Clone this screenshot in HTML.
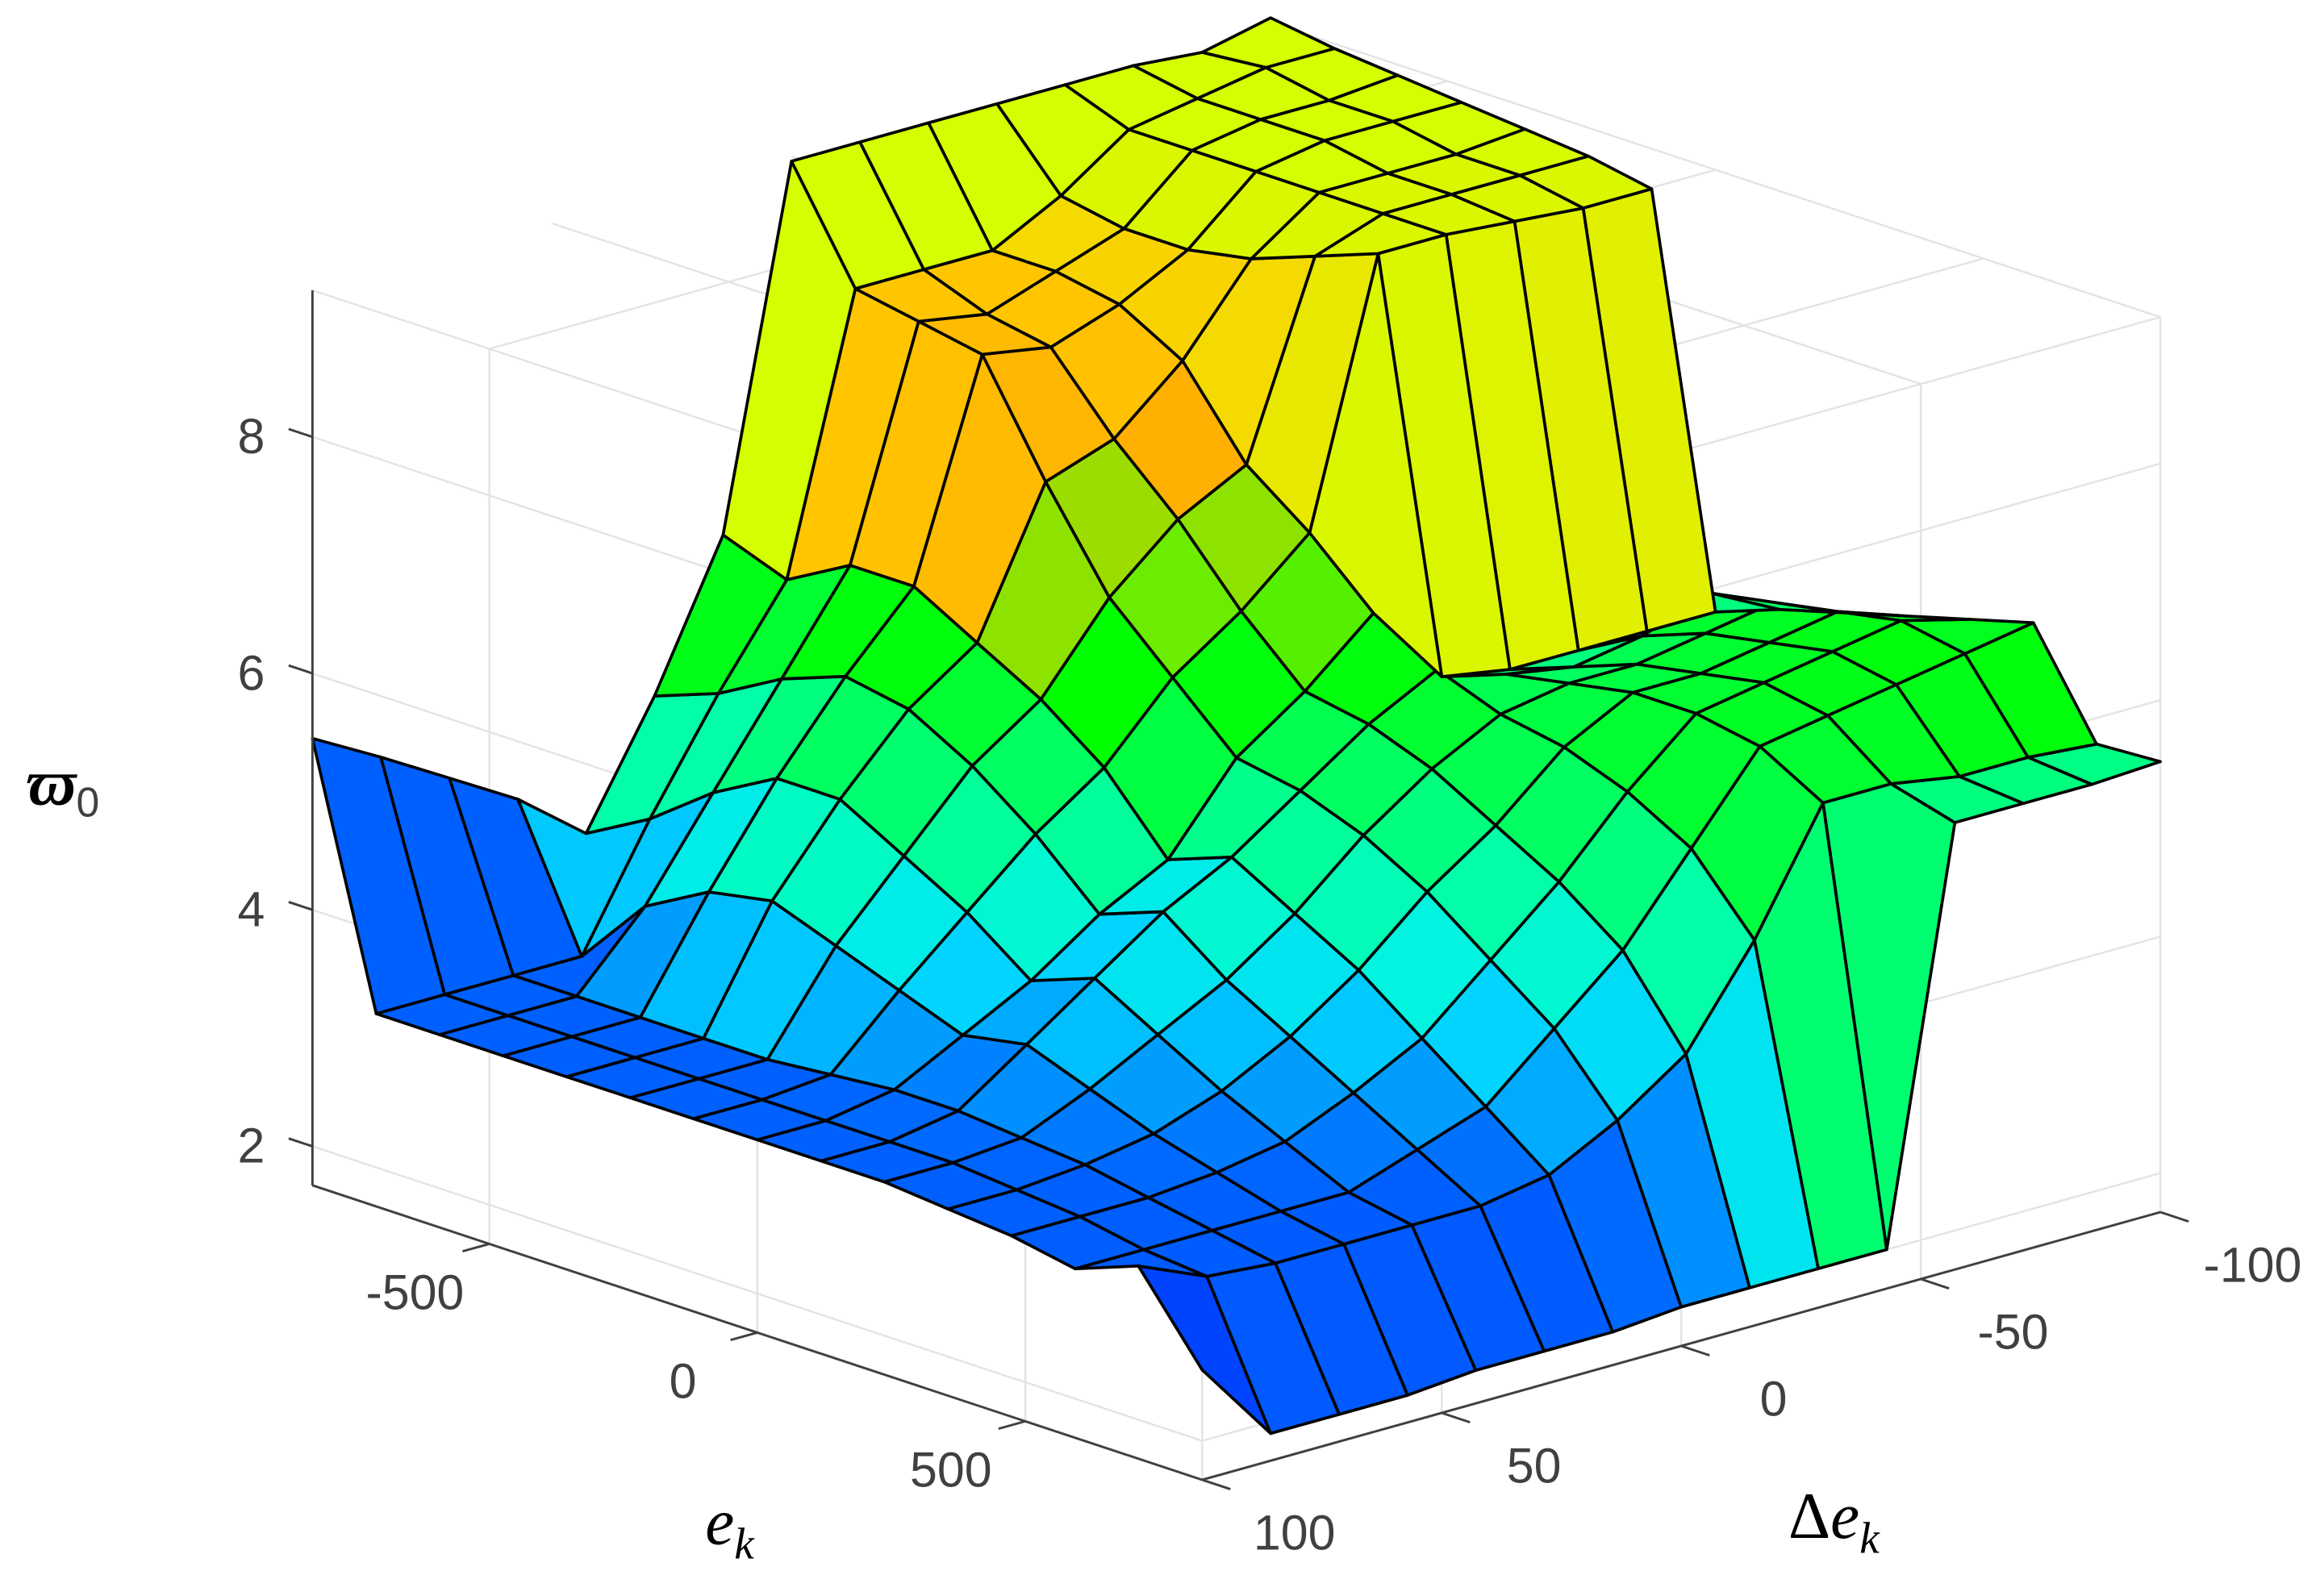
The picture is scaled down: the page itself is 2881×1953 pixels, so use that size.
<!DOCTYPE html>
<html><head><meta charset="utf-8"><title>Surface ϖo vs e_k, Δe_k</title>
<style>
html,body{margin:0;padding:0;background:#fff;}
svg{display:block;}
.tick{font-family:"Liberation Sans","DejaVu Sans",sans-serif;font-size:33px;fill:#404040;}
.ttl{font-family:"Liberation Serif","DejaVu Serif",serif;font-style:italic;fill:#000;}
</style></head>
<body>
<svg id="chart" width="2881" height="1953" viewBox="0 0 1562 1059" preserveAspectRatio="none" xmlns="http://www.w3.org/2000/svg">
<g id="grid"></g>
<g id="surf"></g>
<g id="axes"></g>
<text class="ttl" x="18" y="541" font-size="44" font-weight="bold">ϖ<tspan font-style="normal" font-weight="normal" font-family="Liberation Sans, sans-serif" font-size="28" fill="#404040" dy="8">0</tspan></text>
<text class="ttl" x="474" y="1038" font-size="44">e<tspan font-size="30" dy="10">k</tspan></text>
<text class="ttl" x="1202" y="1034" font-size="44"><tspan font-style="normal">Δ</tspan>e<tspan font-size="30" dy="10">k</tspan></text>
</svg>
<script>
// ---- data ----
const eVals = [-830,-711,-593,-474,-356,-237,-119,0,119,237,356,474,593,711,830];
const dVals = [100,85.7,71.4,57.1,42.9,28.6,14.3,0,-14.3,-28.6,-42.9,-57.1,-71.4,-85.7,-100];
const z0  = [5.45,3.3,3.3,3.3,3.3,3.3,3.3,3.3,3.3,3.3,3.25,3.2,3.1,3.3,2.6];
const z1  = [5.13,3.3,3.3,3.3,3.3,3.3,3.3,3.3,3.3,3.3,3.25,3.2,3.1,3.05,1.9];
const z2  = [4.79,3.3,3.3,3.3,3.3,3.3,3.35,3.4,3.4,3.35,3.3,3.2,3.1,3.0,1.9];
const z3  = [4.45,3.3,3.9,4.2,4.3,4.1,3.9,3.7,3.8,3.6,3.4,3.25,3.1,3.0,1.9];
const z4  = [4.0,4.3,4.7,5.0,5.0,4.7,4.4,4.0,4.2,3.9,3.6,3.35,3.1,3.0,1.95];
const z5  = [5.0,5.2,5.5,5.7,5.6,5.3,4.9,4.4,4.6,4.2,3.9,3.6,3.3,3.0,1.95];
const z6  = [6.2,6.0,6.3,6.3,6.0,5.7,5.3,4.7,4.9,4.6,4.3,3.9,3.5,3.1,1.95];
const z7  = [9.2,8.3,8.2,8.1,7.2,6.4,5.9,5.4,5.3,5.1,4.8,4.4,4.0,3.4,2.0];
const z8  = [9.2,8.3,8.1,8.0,7.4,6.9,6.3,5.8,5.7,5.5,5.2,4.9,4.5,3.8,2.0];
const z9  = [9.2,8.3,8.3,8.2,7.9,7.2,6.8,6.3,6.0,5.8,5.7,5.5,5.2,4.6,2.0];
const z10 = [9.2,8.6,8.5,8.5,8.6,8.8,9.0,5.6,5.8,5.9,6.0,6.0,5.9,5.6,2.0];
const z11 = [9.2,9.0,9.0,9.0,9.0,9.0,9.0,5.5,5.7,5.9,6.0,6.1,6.0,5.6,5.45];
const z12 = [9.2,9.1,9.1,9.1,9.0,9.0,8.95,5.5,5.8,6.0,6.1,6.2,6.1,5.5,5.45];
const z13 = [9.15,9.2,9.1,9.1,9.0,9.0,8.9,5.5,6.0,6.1,6.2,6.3,6.2,5.5,5.45];
const z14 = [9.28,9.2,9.15,9.1,9.05,9.0,8.9,5.5,5.7,5.85,6.0,6.15,6.3,5.45,5.48];
const zRows = [z0,z1,z2,z3,z4,z5,z6,z7,z8,z9,z10,z11,z12,z13,z14];
const zTicks = [2,4,6,8];
const eTicks = [-500,0,500];
const dTicks = [100,50,0,-50,-100];

// ---- axes ----
const eMin=-830, eMax=830, dMin=-100, dMax=100, zMin=1.67, zMax=9.24;
function P(e,d,z){
  const x = 210 + 0.36024*(e-eMin) + 3.22*(dMax-d);
  const y = 797 + 0.11928*(e-eMin) - 0.9*(dMax-d) - 79.5*(z-zMin);
  return [x,y];
}
const stops=[[1.9,[0,68,255]],[3.3,[0,96,255]],[3.7,[0,130,255]],[4.0,[0,170,255]],[4.4,[0,212,255]],[4.8,[0,244,224]],[5.2,[0,255,168]],[5.6,[0,255,112]],[6.0,[0,255,48]],[6.4,[0,255,0]],[7.0,[128,232,0]],[7.4,[156,220,0]],[7.9,[255,176,0]],[8.4,[255,204,0]],[8.8,[232,232,0]],[9.1,[212,255,0]]];
function cmap(v){
  if(v<=stops[0][0]) return 'rgb('+stops[0][1].join(',')+')';
  for(let k=1;k<stops.length;k++){
    if(v<=stops[k][0]){
      const a=stops[k-1],b=stops[k],t=(v-a[0])/(b[0]-a[0]);
      return 'rgb('+[0,1,2].map(c=>Math.round(a[1][c]+(b[1][c]-a[1][c])*t)).join(',')+')';
    }
  }
  return 'rgb('+stops[stops.length-1][1].join(',')+')';
}
const NS='http://www.w3.org/2000/svg';
function line(g,a,b,stroke,w,name){
  const l=document.createElementNS(NS,'line');
  l.setAttribute('x1',a[0]);l.setAttribute('y1',a[1]);l.setAttribute('x2',b[0]);l.setAttribute('y2',b[1]);
  l.setAttribute('stroke',stroke);l.setAttribute('stroke-width',w);
  
  
  g.appendChild(l);return l;
}
function text(g,x,y,s,anchor,name){
  const t=document.createElementNS(NS,'text');
  t.setAttribute('x',x);t.setAttribute('y',y);t.setAttribute('class','tick');t.setAttribute('text-anchor',anchor);
  t.textContent=s;
  
  
  g.appendChild(t);return t;
}
// grid lines
const grid=document.getElementById('grid'), gc='#e3e3e3', gw=1.3;
zTicks.forEach(z=>{
  line(grid,P(eMin,dMax,z),P(eMax,dMax,z),gc,gw,'z-gridline');
  line(grid,P(eMax,dMax,z),P(eMax,dMin,z),gc,gw,'z-gridline');
});
eTicks.forEach(e=>{
  line(grid,P(e,dMax,zMin),P(e,dMax,zMax),gc,gw,'e-gridline');
  line(grid,P(e,dMax,zMax),P(e,dMin,zMax),gc,gw,'e-gridline');
});
dTicks.forEach(d=>{
  if(d===dMax) return;
  line(grid,P(eMax,d,zMin),P(eMax,d,zMax),gc,gw,'d-gridline');
  line(grid,P(eMin,d,zMax),P(eMax,d,zMax),gc,gw,'d-gridline');
});
line(grid,P(eMin,dMax,zMax),P(eMax,dMax,zMax),gc,gw,'box-edge');
line(grid,P(eMax,dMax,zMax),P(eMax,dMin,zMax),gc,gw,'box-edge');
line(grid,P(eMax,dMax,zMin),P(eMax,dMax,zMax),gc,gw,'box-edge');

// surface
const surf=document.getElementById('surf');
const quads=[];
for(let j=0;j<dVals.length-1;j++){
  for(let i=0;i<eVals.length-1;i++){
    const depth=0.11928*(eVals[i]+eVals[i+1])/2+0.9*(dVals[j]+dVals[j+1])/2;
    quads.push([i,j,depth]);
  }
}
quads.sort((a,b)=>b[2]-a[2]);
quads.forEach(([i,j])=>{
  const c=[[i,j],[i+1,j],[i+1,j+1],[i,j+1]];
  const pts=c.map(([a,b])=>P(eVals[a],dVals[b],zRows[b][a]).map(v=>v.toFixed(1)).join(',')).join(' ');
  let cv=zRows[j+1][i];
  if(i===0 && j<5) cv=zRows[j+1][1];
  if(i===13 && j===0) cv=zRows[1][14];
  const p=document.createElementNS(NS,'polygon');
  p.setAttribute('points',pts);
  p.setAttribute('fill',cmap(cv));
  p.setAttribute('stroke','#000');p.setAttribute('stroke-width','2');p.setAttribute('stroke-linejoin','round');
  
  
  surf.appendChild(p);
});

// axes
const ax=document.getElementById('axes'), ac='#404040';
line(ax,P(eMin,dMax,zMin),P(eMin,dMax,zMax),ac,1.6,'z-axis-line');
line(ax,P(eMin,dMax,zMin),P(eMax,dMax,zMin),ac,1.6,'x-axis-line');
line(ax,P(eMax,dMax,zMin),P(eMax,dMin,zMin),ac,1.6,'y-axis-line');
zTicks.forEach(z=>{
  const a=P(eMin,dMax,z);
  line(ax,a,[a[0]-16,a[1]-5.3],ac,1.6,'z-tick');
  text(ax,a[0]-32,a[1]+11,String(z),'end','z-tick-label');
});
eTicks.forEach(e=>{
  const a=P(e,dMax,zMin);
  line(ax,a,[a[0]-18,a[1]+5],ac,1.6,'x-tick');
  text(ax,a[0]-50,a[1]+44,String(e),'middle','x-tick-label');
});
dTicks.forEach(d=>{
  const a=P(eMax,d,zMin);
  line(ax,a,[a[0]+19,a[1]+6.3],ac,1.6,'y-tick');
  text(ax,a[0]+62,a[1]+47,String(d),'middle','y-tick-label');
});
</script>
</body></html>
